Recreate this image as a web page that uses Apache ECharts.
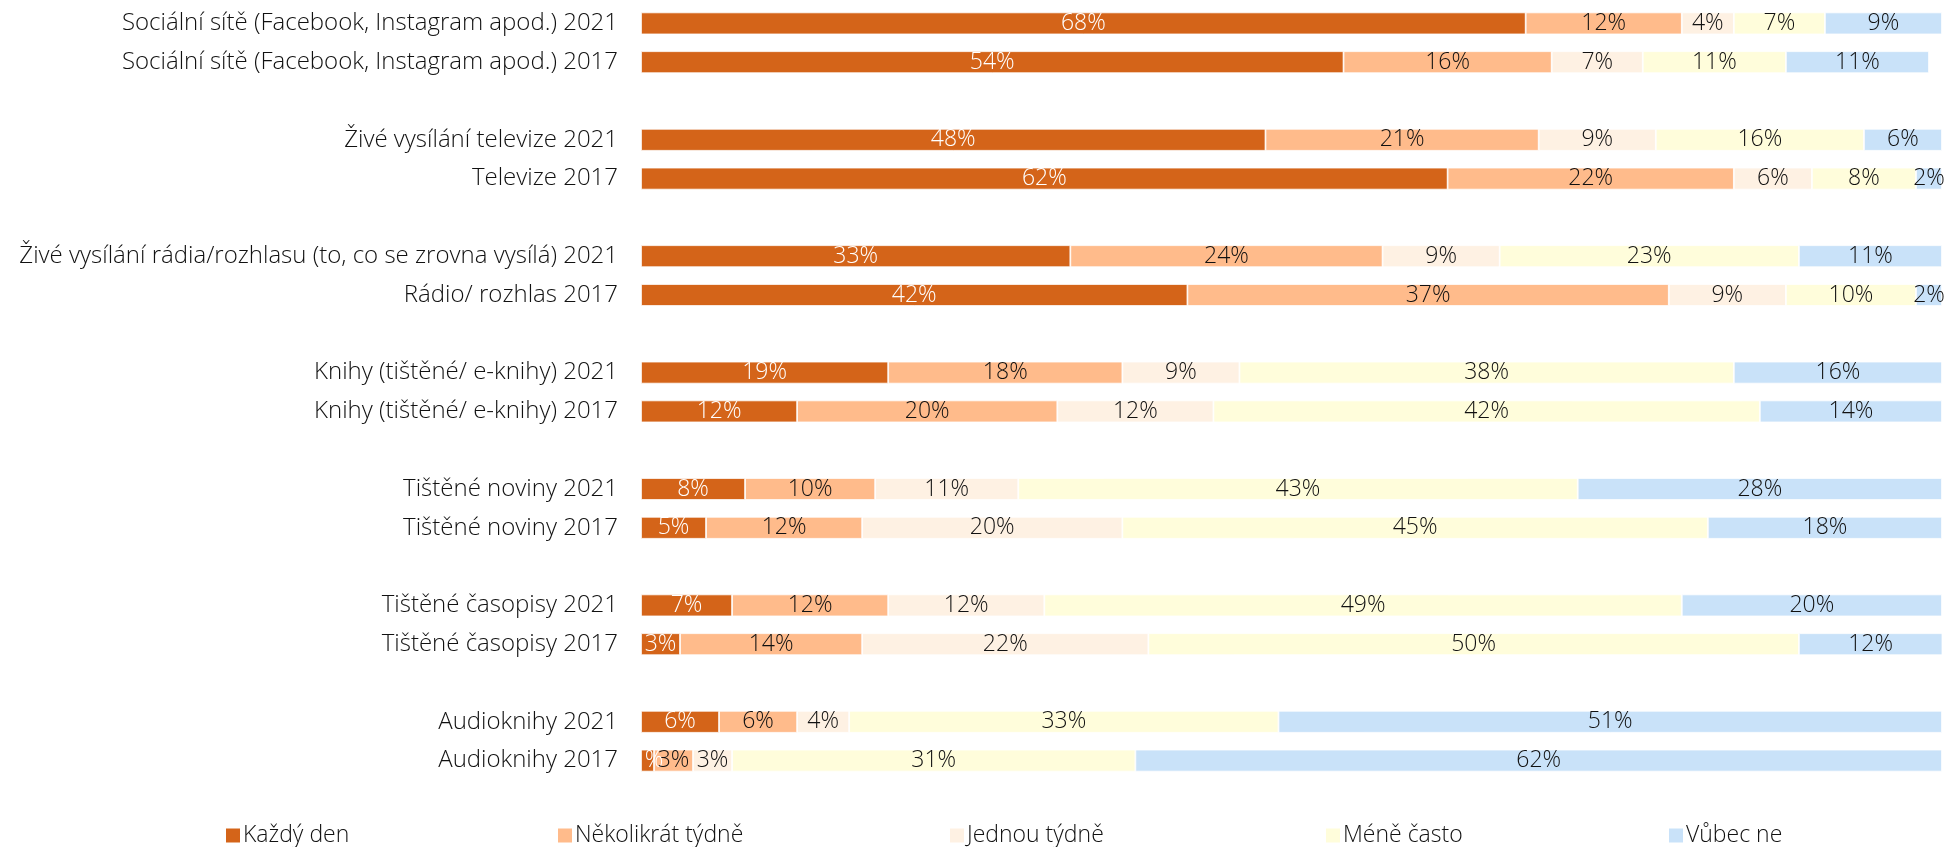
<!DOCTYPE html>
<html>
<head>
<meta charset="utf-8">
<script src="https://cdn.jsdelivr.net/npm/echarts@6/dist/echarts.min.js"></script>
<style>
    html, body { margin: 0; padding: 0; background: #fff; }
    #chart { width: 1949px; height: 847px; }
</style>
</head>
<body>
<div id="chart"></div>
<script>
// kategorie (prázdné řádky = mezery mezi skupinami)
const categories = [
    'Sociální sítě (Facebook, Instagram apod.) 2021',
    'Sociální sítě (Facebook, Instagram apod.) 2017',
    '',
    'Živé vysílání televize 2021',
    'Televize 2017',
    '',
    'Živé vysílání rádia/rozhlasu (to, co se zrovna vysílá) 2021',
    'Rádio/ rozhlas 2017',
    '',
    'Knihy (tištěné/ e-knihy) 2021',
    'Knihy (tištěné/ e-knihy) 2017',
    '',
    'Tištěné noviny 2021',
    'Tištěné noviny 2017',
    '',
    'Tištěné časopisy 2021',
    'Tištěné časopisy 2017',
    '',
    'Audioknihy 2021',
    'Audioknihy 2017'
];

const seriesNames = ['Každý den', 'Několikrát týdně', 'Jednou týdně', 'Méně často', 'Vůbec ne'];

const kazdyDen   = [68, 54, null, 48, 62, null, 33, 42, null, 19, 12, null, 8, 5, null, 7, 3, null, 6, 1];
const nekolikrat = [12, 16, null, 21, 22, null, 24, 37, null, 18, 20, null, 10, 12, null, 12, 14, null, 6, 3];
const jednou     = [4, 7, null, 9, 6, null, 9, 9, null, 9, 12, null, 11, 20, null, 12, 22, null, 4, 3];
const meneCasto  = [7, 11, null, 16, 8, null, 23, 10, null, 38, 42, null, 43, 45, null, 49, 50, null, 33, 31];
const vubecNe    = [9, 11, null, 6, 2, null, 11, 2, null, 16, 14, null, 28, 18, null, 20, 12, null, 51, 62];

const colors = ['#D46419', '#FFBB8B', '#FEF1E3', '#FFFDDB', '#C9E2F9'];
const labelColors = ['#ffffff', '#111111', '#111111', '#111111', '#111111'];
const font = '"Open Sans", "Noto Sans", sans-serif';
// pozice položek legendy (px zleva)
const legendLeft = [224, 556, 948, 1324, 1667];

const chart = echarts.init(document.getElementById('chart'));

const allData = [kazdyDen, nekolikrat, jednou, meneCasto, vubecNe];

chart.setOption({
    animation: false,
    color: colors,
    grid: {
        left: 641,
        right: 7,
        top: 4,
        bottom: 67
    },
    legend: seriesNames.map((name, i) => ({
        data: [name],
        left: legendLeft[i],
        top: 824,
        padding: 0,
        itemWidth: 16,
        itemHeight: 16,
        itemGap: 0,
        icon: 'rect',
        textStyle: {
            fontFamily: font,
            fontWeight: 300,
            fontSize: 23,
            color: '#111111',
            padding: [0, 0, 0, -3]
        }
    })),
    xAxis: {
        type: 'value',
        min: 0,
        max: 100,
        show: false
    },
    yAxis: {
        type: 'category',
        data: categories,
        inverse: true,
        axisLine: { show: false },
        axisTick: { show: false },
        axisLabel: {
            margin: 23,
            fontFamily: font,
            fontWeight: 300,
            fontSize: 24,
            color: '#111111'
        }
    },
    series: allData.map((d, i) => ({
        name: seriesNames[i],
        type: 'bar',
        stack: 'total',
        barWidth: 22,
        data: d,
        itemStyle: {
            borderColor: '#ffffff',
            borderWidth: 0.8
        },
        label: {
            show: true,
            position: 'inside',
            formatter: p => p.value == null ? '' : p.value + '%',
            fontFamily: font,
            fontWeight: 300,
            fontSize: 23,
            color: labelColors[i]
        }
    }))
});
</script>
</body>
</html>
